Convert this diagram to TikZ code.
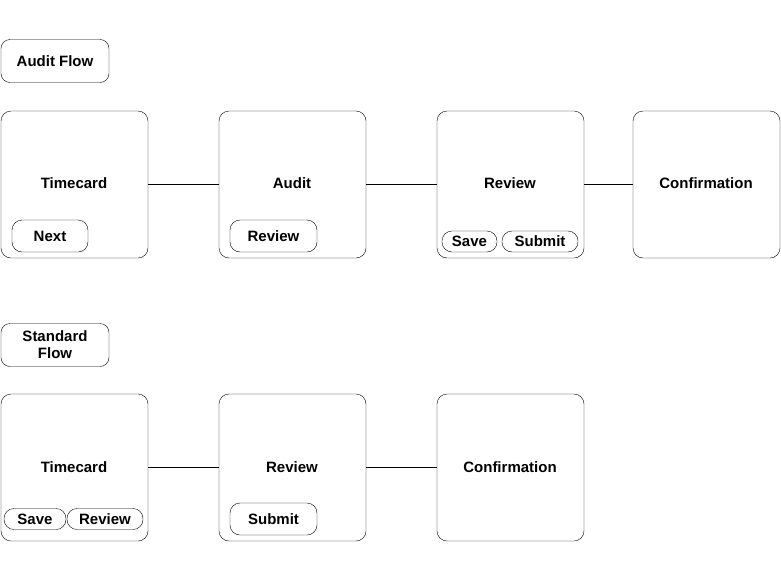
\documentclass[tikz,border=0pt]{standalone}
\usepackage{fontspec}
\setmainfont{Liberation Sans}
\usetikzlibrary{positioning}

\begin{document}
\begin{tikzpicture}[
    x=1pt, y=-1pt,
    every node/.style={font=\fontsize{15}{17}\selectfont\bfseries},
    screen/.style={rectangle, draw, rounded corners=10pt, minimum width=147pt, minimum height=147pt, inner sep=0pt},
    flowlabel/.style={rectangle, draw, rounded corners=9pt, minimum width=108pt, minimum height=43pt, align=center, inner sep=0pt},
    button/.style={rectangle, draw, rounded corners=10pt, minimum height=32pt, inner sep=0pt},
    smallbutton/.style={rectangle, draw, rounded corners=10pt, minimum height=21pt, inner sep=0pt},
]
    \useasboundingbox (0,0) rectangle (781,581);

    % Audit flow
    \node[flowlabel] (audit_lbl) at (55,61) {Audit Flow};
    \node[screen] (a_time) at (74.5,184.5) {};
    \node[screen] (a_audit) at (292.5,184.5) {};
    \node[screen] (a_review) at (510.5,184.5) {};
    \node[screen] (a_confirm) at (706.5,184.5) {};
    \node at (74,183) {Timecard};
    \node at (292,183) {Audit};
    \node at (510,183) {Review};
    \node at (706,183) {Confirmation};
    \node[button, minimum width=76pt] (a_next) at (50,236) {Next};
    \node[button, minimum width=87pt] (a_rev_btn) at (273.5,236) {Review};
    \node[smallbutton, minimum width=55pt] (a_save) at (469.5,241.5) {Save};
    \node[smallbutton, minimum width=76pt] (a_submit) at (540,241.5) {Submit};

    \draw (a_time) -- (a_audit);
    \draw (a_audit) -- (a_review);
    \draw (a_review) -- (a_confirm);

    % Standard flow
    \node[flowlabel] (std_lbl) at (55,345) {Standard\\Flow};
    \node[screen] (s_time) at (74.5,467.5) {};
    \node[screen] (s_review) at (292.5,467.5) {};
    \node[screen] (s_confirm) at (510.5,467.5) {};
    \node at (74,467) {Timecard};
    \node at (292,467) {Review};
    \node at (510,467) {Confirmation};
    \node[smallbutton, minimum width=62pt] (s_save) at (35,519) {Save};
    \node[smallbutton, minimum width=76pt] (s_rev_btn) at (105,519) {Review};
    \node[button, minimum width=87pt] (s_submit) at (273.5,519) {Submit};

    \draw (s_time) -- (s_review);
    \draw (s_review) -- (s_confirm);
\end{tikzpicture}
\end{document}
